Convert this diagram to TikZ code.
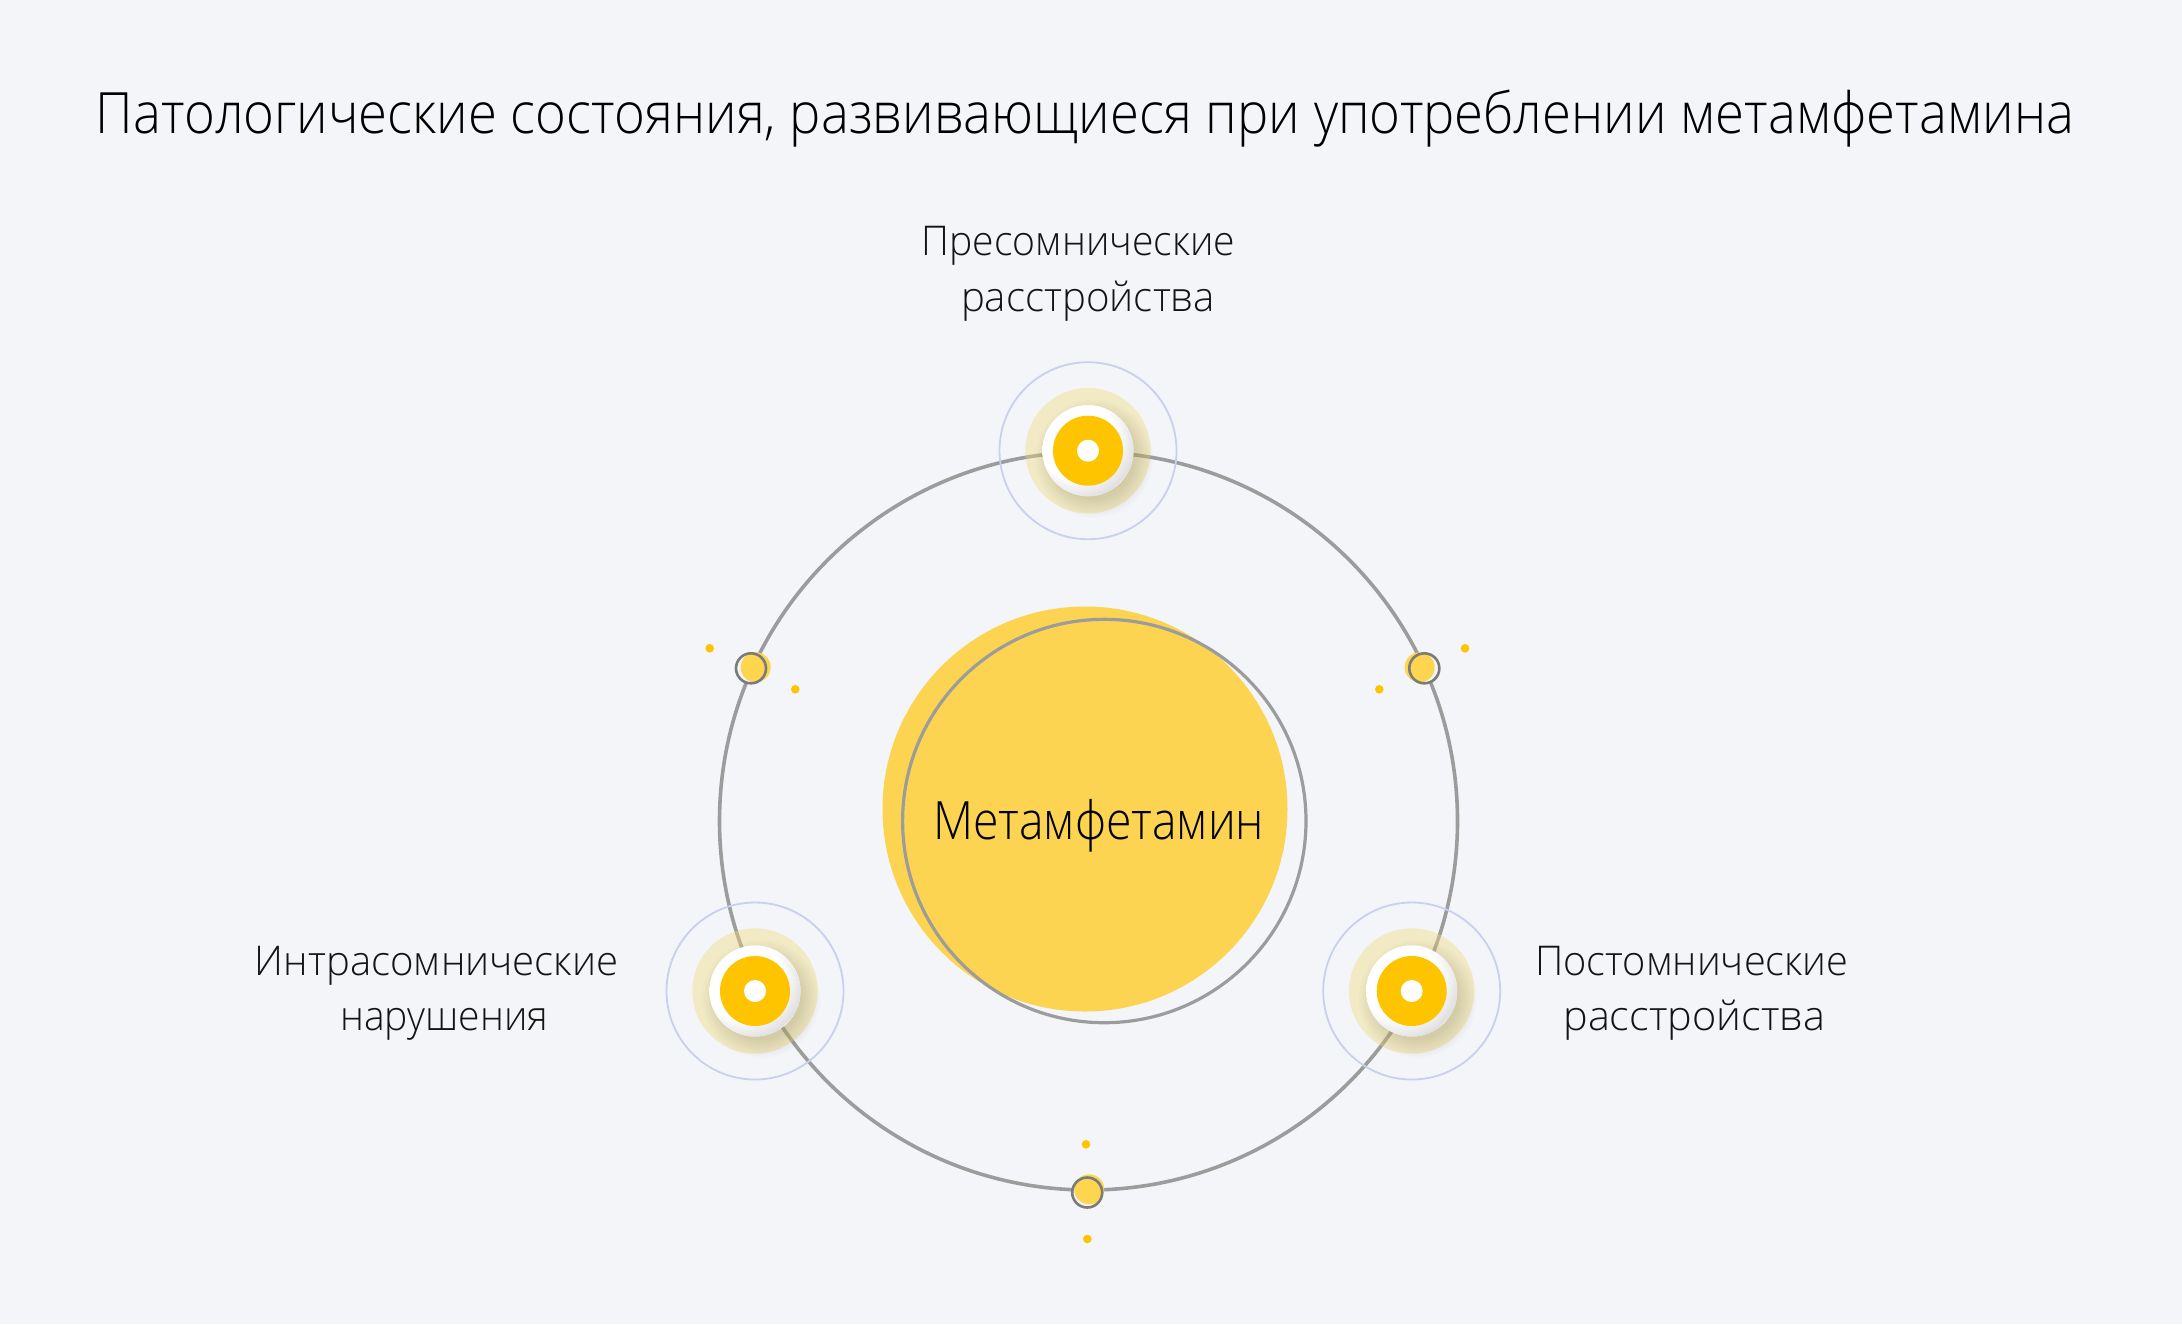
\documentclass[tikz,border=0pt]{standalone}
\usepackage{fontspec}
\usepackage{graphicx}
\IfFontExistsTF{Open Sans Light}{\setmainfont{Open Sans Light}}{\setmainfont{Open Sans}}
\definecolor{bg}{HTML}{F3F5F9}
\definecolor{ringgray}{HTML}{9C9C9C}
\definecolor{ctryellow}{HTML}{FCD452}
\definecolor{gold}{HTML}{FFC400}
\definecolor{halo}{HTML}{F2D778}
\definecolor{lav}{HTML}{C9D0EE}
\definecolor{dotyellow}{HTML}{FDD54F}
\definecolor{darkring}{HTML}{7B7B7B}
\pgfdeclareradialshading{wdisk}{\pgfpoint{0bp}{0bp}}{color(0bp)=(white); color(16bp)=(white); color(25bp)=(black!13); color(50bp)=(black!13)}
\newcommand{\fitw}[2]{\resizebox{#1}{\height}{#2}}
\newcommand{\smallnd}[5]{%
  \coordinate (#1) at (#2,#3);
  \fill[bg] (#1) circle[radius=15];
  \fill[dotyellow] ([shift={(#4,#5)}]#1) circle[radius=15];
  \draw[darkring, line width=1.3pt] (#1) circle[radius=15];
}
\tikzset{
  titletext/.style={anchor=base, inner sep=0pt, font=\fontsize{28.5}{34}\selectfont, text=black},
  lbl/.style={anchor=base, inner sep=0pt, font=\fontsize{20.5}{24}\selectfont, text=black!92},
  ctrtext/.style={anchor=base, inner sep=0pt, font=\fontsize{26.4}{30}\selectfont, text=black},
  golddot/.style={fill=gold},
  bignode/.pic={
    \draw[lav, line width=0.9pt] (0,0) circle[radius=88.5];
    \fill[halo, opacity=0.4] (0,0) circle[radius=62.7];
    \foreach \k in {0,...,9} {\fill[black, opacity=0.012] (6,8) circle[radius={41+2*\k}];}
    \fill[white] (0,0) circle[radius=45.5];
    \begin{scope}
      \clip (0,0) circle[radius=45.5];
      \shade[shading=wdisk] (-12,-12) circle[radius=62];
    \end{scope}
    \fill[gold] (0,0) circle[radius=35];
    \fill[white] (0,0) circle[radius=11];
  }
}
\begin{document}
\begin{tikzpicture}[x=0.5pt, y=-0.5pt]
\useasboundingbox (0,0) rectangle (2182,1324);
\fill[bg] (0,0) rectangle (2182,1324);

% title
\node[titletext] (title) at (1085,133.3) {\fitw{989pt}{Патологические состояния, развивающиеся при употреблении метамфетамина}};

% main ring
\node[circle, draw=ringgray, line width=1.8pt, minimum size=369pt, inner sep=0pt] (ring) at (1088.5,821) {};

% centre
\fill[ctryellow] (1085,809) circle[radius=202.5];
\draw[ringgray, line width=1.6pt] (1104.3,821) circle[radius=201.7];
\node[ctrtext] (centre) at (1098.7,839) {\fitw{165.5pt}{Метамфетамин}};

% big nodes
\coordinate (nTop) at (1088,450.7);
\coordinate (nLeft) at (755,991);
\coordinate (nRight) at (1411.7,991);
\pic at (nTop) {bignode};
\pic at (nLeft) {bignode};
\pic at (nRight) {bignode};

% small nodes
\smallnd{sLeft}{751}{668.3}{4.7}{-1}
\smallnd{sRight}{1424.3}{668.3}{-4.6}{-1}
\smallnd{sBottom}{1087.2}{1192.5}{2}{-3.2}

% dots
\coordinate (d1) at (709.7,648.3);
\coordinate (d2) at (795.3,689.3);
\coordinate (d3) at (1465,648.3);
\coordinate (d4) at (1379.3,689.3);
\coordinate (d5) at (1086,1144.3);
\coordinate (d6) at (1087.3,1239);
\foreach \d in {d1,d2,d3,d4,d5,d6} {\fill[golddot] (\d) circle[radius=4.3];}

% labels
\node[lbl] (lt1) at (1078.4,255) {\fitw{156.7pt}{Пресомнические}};
\node[lbl] (lt2) at (1088,311) {\fitw{127pt}{расстройства}};
\node[lbl] (ll1) at (436.7,975) {\fitw{181.7pt}{Интрасомнические}};
\node[lbl] (ll2) at (444.2,1030) {\fitw{104pt}{нарушения}};
\node[lbl] (lr1) at (1691.7,975) {\fitw{156.7pt}{Постомнические}};
\node[lbl] (lr2) at (1694.2,1030.5) {\fitw{130.8pt}{расстройства}};
\end{tikzpicture}
\end{document}
